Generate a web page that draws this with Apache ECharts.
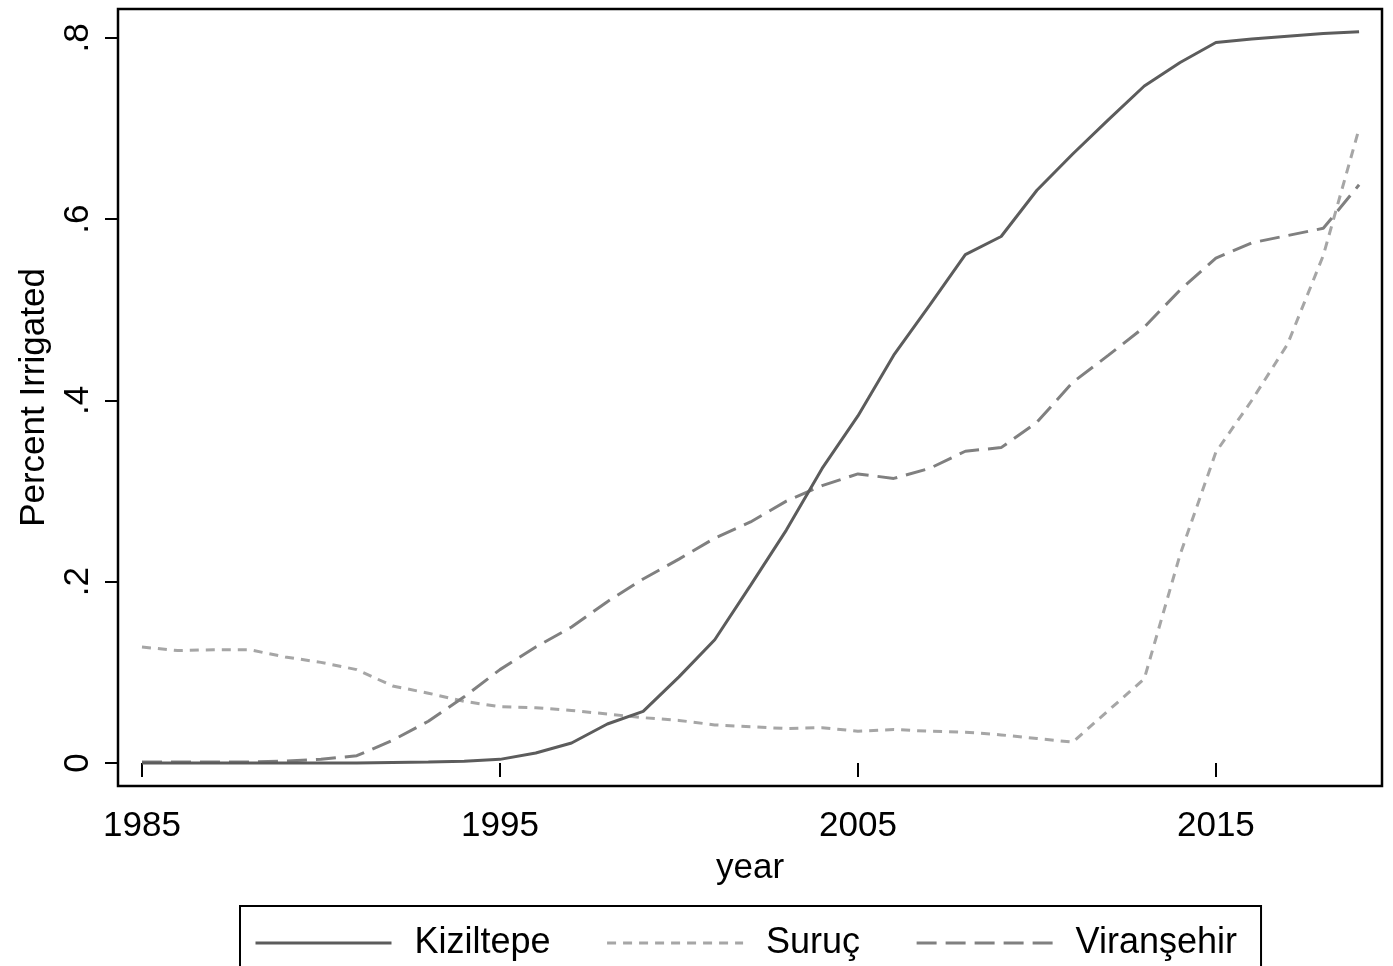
<!DOCTYPE html>
<html>
<head>
<meta charset="utf-8">
<title>Percent Irrigated</title>
<script src="https://cdn.jsdelivr.net/npm/echarts@6/dist/echarts.min.js"></script>
<style>
  html, body { margin: 0; padding: 0; background: #fff; }
  #chart { width: 1393px; height: 966px; }
</style>
</head>
<body>
<div id="chart"></div>
<script>
// Share of irrigated land by district, 1985-2019
const years = [];
for (let y = 1985; y <= 2019; y++) years.push(y);

const kiziltepe = [0, 0, 0, 0, 0, 0, 0, 0.0005, 0.001, 0.002,
  0.004, 0.011, 0.022, 0.043, 0.057, 0.095, 0.136, 0.196, 0.257, 0.325,
  0.383, 0.450, 0.505, 0.561, 0.581, 0.632, 0.672, 0.710, 0.747, 0.773,
  0.795, 0.799, 0.802, 0.805, 0.807];

const suruc = [0.128, 0.124, 0.125, 0.125, 0.117, 0.111, 0.103, 0.085, 0.077, 0.068,
  0.062, 0.061, 0.058, 0.054, 0.050, 0.047, 0.042, 0.040, 0.038, 0.039,
  0.035, 0.037, 0.035, 0.034, 0.031, 0.027, 0.023, 0.058, 0.093, 0.230,
  0.343, 0.400, 0.462, 0.560, 0.700];

const viransehir = [0.001, 0.001, 0.001, 0.001, 0.002, 0.004, 0.008, 0.025, 0.046, 0.073,
  0.103, 0.128, 0.150, 0.178, 0.203, 0.225, 0.248, 0.266, 0.289, 0.306,
  0.319, 0.314, 0.325, 0.344, 0.348, 0.376, 0.420, 0.450, 0.481, 0.522,
  0.557, 0.574, 0.582, 0.590, 0.638];

const seriesNames = ['Kiziltepe', 'Suruç', 'Viranşehir'];
const xTicks = [1985, 1995, 2005, 2015];
const yTicks = [0, 0.2, 0.4, 0.6, 0.8];

const FONT = '"Liberation Sans", Arial, Helvetica, sans-serif';

function pairs(vals) {
  return years.map((yr, i) => [yr, vals[i]]);
}

const chart = echarts.init(document.getElementById('chart'), null, { renderer: 'canvas' });

chart.setOption({
  backgroundColor: '#ffffff',
  animation: false,
  grid: {
    left: 118, top: 9, right: 11, bottom: 180,
    show: true, borderColor: '#000', borderWidth: 2.5,
    backgroundColor: 'transparent'
  },
  xAxis: {
    type: 'value',
    min: 1984.33, max: 2019.64,
    name: 'year',
    nameLocation: 'middle',
    nameGap: 65,
    nameTextStyle: { fontFamily: FONT, fontSize: 35, color: '#000' },
    axisLine: { show: false },
    splitLine: { show: false },
    axisTick: { show: true, length: 14, customValues: xTicks, lineStyle: { color: '#000', width: 2 } },
    axisLabel: {
      customValues: xTicks, margin: 23,
      fontFamily: FONT, fontSize: 35, color: '#000',
      formatter: v => String(v)
    }
  },
  yAxis: {
    type: 'value',
    min: -0.0254, max: 0.832,
    name: 'Percent Irrigated',
    nameLocation: 'middle',
    nameRotate: 90,
    nameGap: 66,
    nameTextStyle: { fontFamily: FONT, fontSize: 35, color: '#000' },
    axisLine: { show: false },
    splitLine: { show: false },
    axisTick: { show: true, length: 13, customValues: yTicks, lineStyle: { color: '#000', width: 2 } },
    axisLabel: {
      customValues: yTicks, rotate: 90, margin: 22,
      fontFamily: FONT, fontSize: 35, color: '#000',
      formatter: v => (Math.abs(v) < 1e-9 ? '0' : v.toFixed(1).replace(/^0\./, '.'))
    }
  },
  legend: {
    left: 240, top: 906,
    padding: [19, 24, 40, 14],
    borderColor: '#000', borderWidth: 2,
    itemGap: 55,
    itemWidth: 136, itemHeight: 14,
    data: seriesNames,
    itemStyle: { color: 'rgba(0,0,0,0)', borderWidth: 0, opacity: 0 },
    lineStyle: { width: 3 },
    textStyle: { fontFamily: FONT, fontSize: 36, color: '#000', padding: [0, 0, 0, 18] }
  },
  series: [
    {
      name: seriesNames[0], type: 'line', data: pairs(kiziltepe),
      symbol: 'none', showSymbol: false,
      lineStyle: { color: '#5c5c5c', width: 3, type: 'solid' },
      itemStyle: { color: '#5c5c5c' }, z: 4
    },
    {
      name: seriesNames[1], type: 'line', data: pairs(suruc),
      symbol: 'none', showSymbol: false,
      lineStyle: { color: '#a6a6a6', width: 3, type: [9, 7] },
      itemStyle: { color: '#a6a6a6' }, z: 2
    },
    {
      name: seriesNames[2], type: 'line', data: pairs(viransehir),
      symbol: 'none', showSymbol: false,
      lineStyle: { color: '#808080', width: 3, type: [20, 9] },
      itemStyle: { color: '#808080' }, z: 3
    }
  ]
});
</script>
</body>
</html>
